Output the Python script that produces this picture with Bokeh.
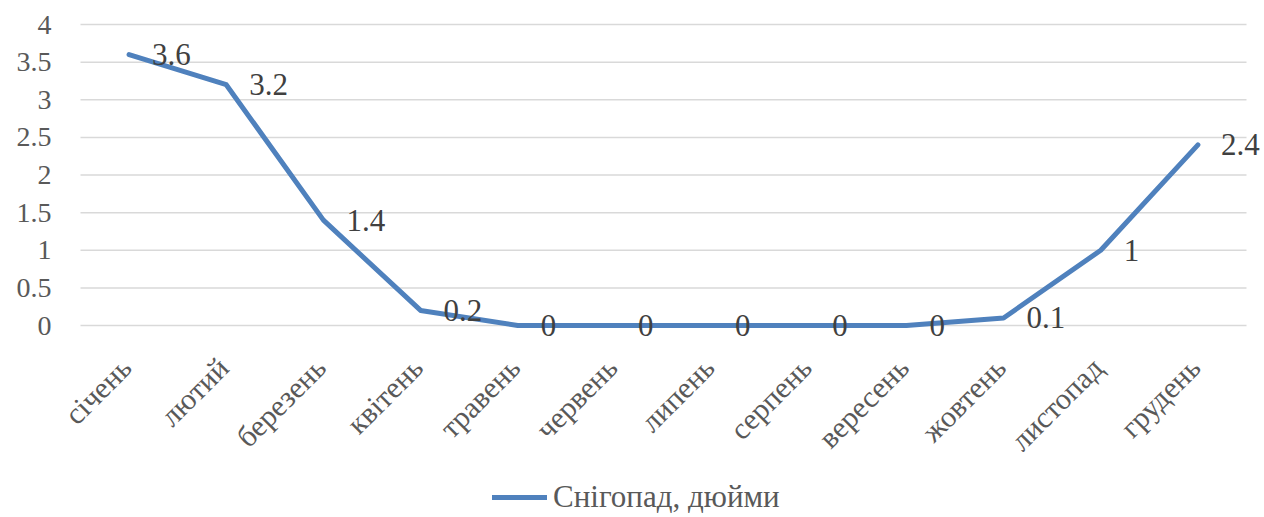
import math
from bokeh.plotting import figure
from bokeh.models import ColumnDataSource, Legend, LegendItem, Range1d, LabelSet
from bokeh.embed import file_html
from bokeh.resources import INLINE

months = ["січень", "лютий", "березень", "квітень", "травень", "червень",
          "липень", "серпень", "вересень", "жовтень", "листопад", "грудень"]
snow = [3.6, 3.2, 1.4, 0.2, 0, 0, 0, 0, 0, 0.1, 1, 2.4]
y_ticks = [0, 0.5, 1, 1.5, 2, 2.5, 3, 3.5, 4]
y_tick_labels = ["0", "0.5", "1", "1.5", "2", "2.5", "3", "3.5", "4"]
series_name = "Снігопад, дюйми"

FONT = "Liberation Serif"
LINE = "#4f81bd"
GREY = "#595959"

# canvas and plot-area geometry (pixels)
W, H = 1262, 515
PLOT_L, PLOT_R, PLOT_T, PLOT_B = 80, 1246, 24, 325
n = len(months)
px_x = (PLOT_R - PLOT_L) / n
px_y = (PLOT_B - PLOT_T) / (y_ticks[-1] - y_ticks[0])
x_lo = -0.5 - PLOT_L / px_x
x_hi = -0.5 + (W - PLOT_L) / px_x
y_hi = y_ticks[-1] + PLOT_T / px_y
y_lo = y_ticks[0] - (H - PLOT_B) / px_y

xs = list(range(n))
src = ColumnDataSource(dict(x=xs, y=snow, lab=[("%g" % v) for v in snow]))
msrc = ColumnDataSource(dict(x=xs, y=[y_ticks[0]] * n, m=months))
gsrc = ColumnDataSource(dict(x0=[-0.5] * len(y_ticks), x1=[n - 0.5] * len(y_ticks),
                             y=y_ticks, lab=y_tick_labels))

p = figure(width=W, height=H, output_backend="svg", toolbar_location=None,
           x_range=Range1d(x_lo, x_hi), y_range=Range1d(y_lo, y_hi),
           min_border_left=0, min_border_right=0, min_border_top=0, min_border_bottom=0)
p.outline_line_color = None
p.background_fill_color = "white"
p.xaxis.visible = False
p.yaxis.visible = False
p.grid.visible = False

# horizontal gridlines
p.segment(x0="x0", x1="x1", y0="y", y1="y", source=gsrc, line_color="#d9d9d9", line_width=1.5)

# y tick labels
p.add_layout(LabelSet(x="x0", y="y", text="lab", source=gsrc, x_offset=-29,
                      text_baseline="middle", text_align="right",
                      text_font=FONT, text_font_size="28px", text_color=GREY))

r = p.line("x", "y", source=src, line_color=LINE, line_width=5, line_cap="round", line_join="round")

# data labels
p.add_layout(LabelSet(x="x", y="y", text="lab", source=src, x_offset=23, y_offset=0,
                      text_baseline="middle", text_align="left",
                      text_font=FONT, text_font_size="31px", text_color="#404040"))

# category labels
p.add_layout(LabelSet(x="x", y="y", text="m", source=msrc, x_offset=-3, y_offset=-37,
                      angle=math.pi / 4, text_baseline="middle", text_align="right",
                      text_font=FONT, text_font_size="30px", text_color=GREY))

leg = Legend(items=[LegendItem(label=series_name, renderers=[r])], location=(492, 0),
             orientation="horizontal", glyph_width=55, glyph_height=20, label_standoff=6,
             label_text_font=FONT, label_text_font_size="31px", label_text_color=GREY,
             border_line_color=None, background_fill_alpha=0, padding=0, margin=0, spacing=0)
p.add_layout(leg, "center")

open("out.html", "w").write(file_html(p, INLINE))
